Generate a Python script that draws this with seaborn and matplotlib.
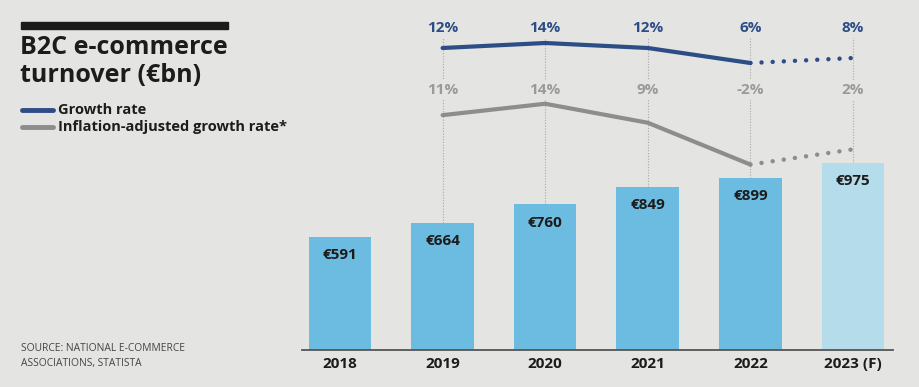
"""
B2C e-commerce turnover with growth rates
"""
import matplotlib.pyplot as plt
import matplotlib.transforms as mtransforms
from matplotlib.lines import Line2D
from matplotlib.patches import Rectangle
import seaborn as sns
import pandas as pd

# data
years = ['2018', '2019', '2020', '2021', '2022', '2023 (F)']
turnover = [591, 664, 760, 849, 899, 975]
rate_years = ['2019', '2020', '2021', '2022', '2023 (F)']
growth = [12, 14, 12, 6, 8]
real_growth = [11, 14, 9, -2, 2]

# colours
BG = '#e4e4e2'
BAR = '#6bbce0'
BAR_F = '#b4dcea'
BLUE = '#2d4d86'
GREY = '#8d8d8d'
GREY_TXT = '#9a9a9a'
INK = '#1c1c1c'

sns.set_theme(style='white')
plt.rcParams['font.family'] = ['Open Sans', 'DejaVu Sans']

W, H = 919, 387
fig = plt.figure(figsize=(W / 100, H / 100), dpi=100, facecolor=BG)
ax = fig.add_axes([302 / W, 1 - 350 / H, (893 - 302) / W, 350 / H])
ax.set_facecolor(BG)

# bars
df = pd.DataFrame({'year': years, 'turnover': turnover})
sns.barplot(data=df, x='year', y='turnover', hue='year', order=years,
            palette=[BAR] * 5 + [BAR_F], legend=False, width=0.61,
            saturation=1, linewidth=0, ax=ax, zorder=2)
ax.set_xlim(-0.37, 5.39)
ax.set_ylim(0, 350 / 0.1915)
ax.set_xlabel('')
ax.set_ylabel('')
ax.set_yticks([])
for s in ['left', 'right', 'top']:
    ax.spines[s].set_visible(False)
ax.spines['bottom'].set_color('#555555')
ax.spines['bottom'].set_linewidth(1.3)
ax.spines['bottom'].set_zorder(5)
ax.tick_params(axis='x', length=0, pad=5)
for lbl in ax.get_xticklabels():
    lbl.set_fontweight('bold')
    lbl.set_fontsize(11)
    lbl.set_color(INK)

for i, v in enumerate(turnover):
    ax.annotate(f'€{v}', (i, v), xytext=(0, -13), textcoords='offset points',
                ha='center', va='center', fontsize=11, fontweight='bold',
                color=INK, zorder=4)

# guide lines + percentage labels
xs = [years.index(y) for y in rate_years]
top = ax.get_ylim()[1] * (350 - 34) / 350
ax.vlines(xs, [turnover[i] for i in xs], top, colors='#a8a8a8',
          linewidth=0.8, linestyles=(0, (1, 1.5)), zorder=1)

blend = mtransforms.blended_transform_factory(ax.transData, ax.transAxes)
for x, g, r in zip(xs, growth, real_growth):
    ax.text(x, (350 - 28) / 350, f'{g}%', transform=blend, ha='center',
            va='center', fontsize=11, fontweight='bold', color=BLUE,
            bbox=dict(facecolor=BG, edgecolor='none', pad=2), zorder=3)
    ax.text(x, (350 - 90) / 350, f'{r}%', transform=blend, ha='center',
            va='center', fontsize=11, fontweight='bold', color=GREY_TXT,
            bbox=dict(facecolor=BG, edgecolor='none', pad=2), zorder=3)

# growth lines on their own scales
ax_g = ax.twinx()
ax_r = ax.twinx()
for a, lims in [(ax_g, (-108.8, 31.2)), (ax_r, (-50.8, 41.3))]:
    a.set_ylim(*lims)
    a.set_yticks([])
    for s in a.spines.values():
        s.set_visible(False)

ax_g.plot(xs[:4], growth[:4], color=BLUE, lw=3, solid_capstyle='round')
ax_g.plot(xs[3:], growth[3:], color=BLUE, lw=3.2,
          linestyle=(0, (0.01, 2.5)), dash_capstyle='round')
ax_r.plot(xs[:4], real_growth[:4], color=GREY, lw=3, solid_capstyle='round')
ax_r.plot(xs[3:], real_growth[3:], color=GREY, lw=3.2,
          linestyle=(0, (0.01, 2.52)), dash_capstyle='round')

# title block
fig.add_artist(Rectangle((21 / W, 1 - 29 / H), 207 / W, 7 / H,
                         color=INK, transform=fig.transFigure))
fig.text(20 / W, 1 - 35 / H, 'B2C e-commerce\nturnover (€bn)', ha='left',
         va='top', fontsize=18, fontweight='bold', color=INK, linespacing=1.18)

# legend
for y, c, t in [(110, BLUE, 'Growth rate'),
                (127, GREY, 'Inflation-adjusted growth rate*')]:
    fig.add_artist(Line2D([22 / W, 53 / W], [1 - y / H] * 2, lw=3.5, color=c,
                          solid_capstyle='round', transform=fig.transFigure))
    fig.text(58 / W, 1 - y / H, t, ha='left', va='center', fontsize=10.5,
             fontweight='bold', color=INK)

# source
fig.text(21 / W, 1 - 356 / H, 'SOURCE: NATIONAL E-COMMERCE\nASSOCIATIONS, STATISTA',
         ha='left', va='center', fontsize=7.4, color='#444444', linespacing=1.6)

fig.savefig('out.png', dpi=100, facecolor=BG)
